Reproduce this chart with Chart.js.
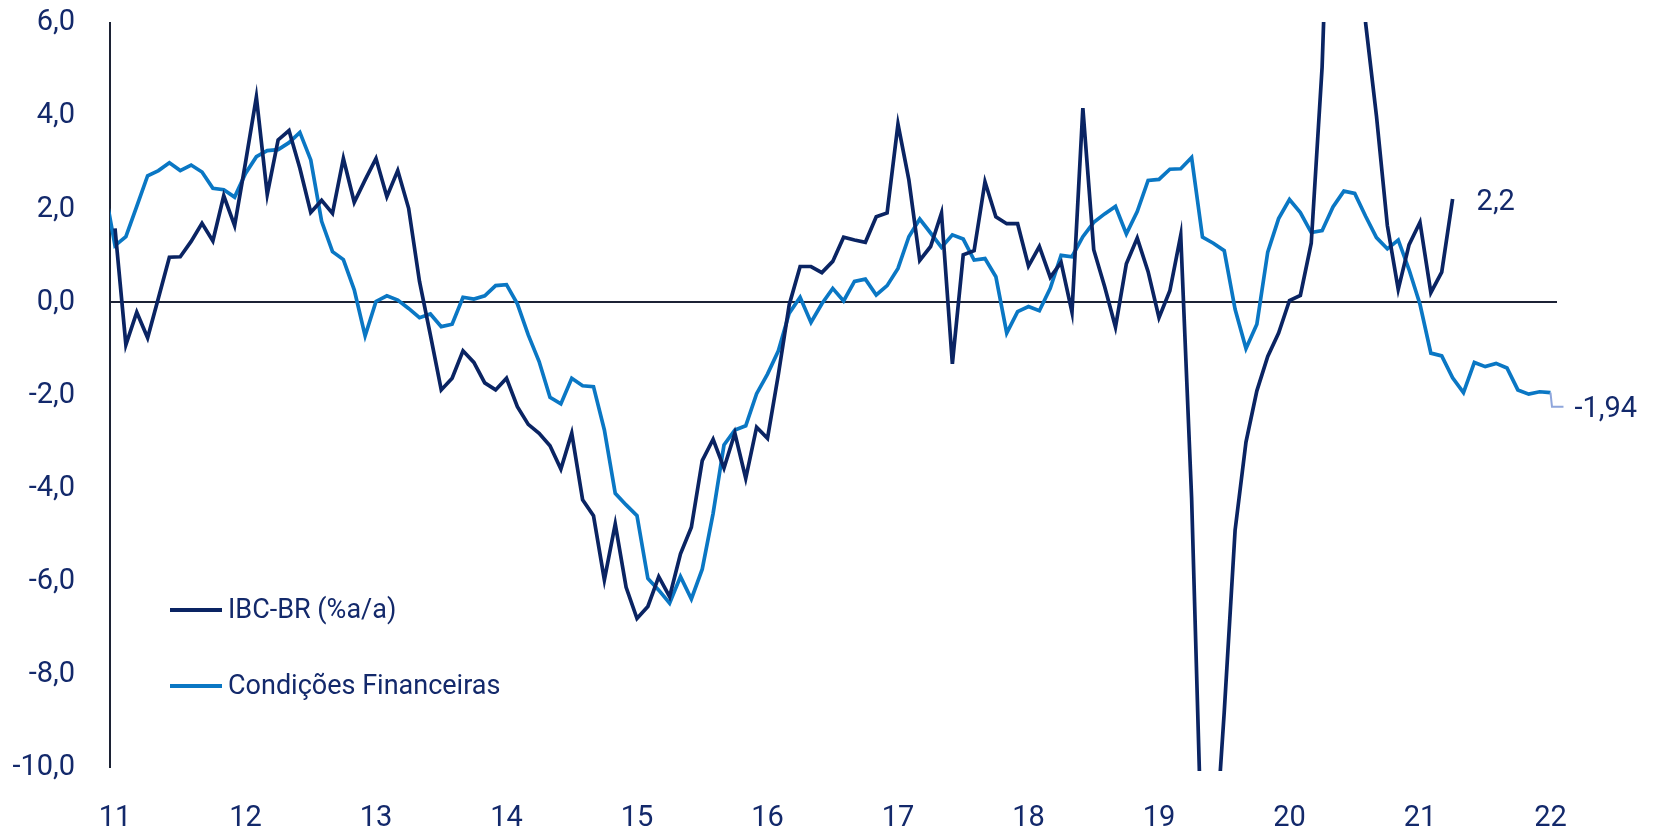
<!DOCTYPE html>
<html>
<head>
<meta charset="utf-8">
<script src="https://cdn.jsdelivr.net/npm/chart.js@4.4.1/dist/chart.umd.min.js"></script>
<style>
  body { margin: 0; background: #fff; }
  #wrap { width: 1657px; height: 833px; }
</style>
</head>
<body>
<div id="wrap"><canvas id="chart" width="1657" height="833"></canvas></div>
<script>
// months counted from Jan 2011 (0 = jan/11)
const yearTicks = [0, 12, 24, 36, 48, 60, 72, 84, 96, 108, 120, 132];
const yearLabels = ['11', '12', '13', '14', '15', '16', '17', '18', '19', '20', '21', '22'];
const seriesNames = ['IBC-BR (%a/a)', 'Condições Financeiras'];

// IBC-BR, jan/11 .. abr/21
const ibcStart = 0;
const ibcBr = [
    1.59, -0.91, -0.21, -0.76, 0.10, 0.97, 0.98, 1.31, 1.70, 1.32, 2.29, 1.65,
    3.00, 4.41, 2.32, 3.49, 3.69, 2.88, 1.93, 2.19, 1.91, 3.09, 2.15, 2.63,
    3.09, 2.27, 2.83, 2.02, 0.45, -0.70, -1.88, -1.63, -1.04, -1.29, -1.73, -1.88,
    -1.63, -2.24, -2.62, -2.81, -3.08, -3.58, -2.81, -4.24, -4.58, -5.96, -4.76, -6.12,
    -6.79, -6.53, -5.89, -6.32, -5.40, -4.83, -3.40, -2.94, -3.56, -2.81, -3.78, -2.68,
    -2.92, -1.55, -0.05, 0.77, 0.77, 0.64, 0.88, 1.40, 1.34, 1.29, 1.84, 1.92,
    3.83, 2.63, 0.90, 1.20, 1.92, -1.32, 1.02, 1.11, 2.59, 1.84, 1.69, 1.69,
    0.78, 1.20, 0.54, 0.86, -0.21, 4.17, 1.13, 0.34, -0.53, 0.83, 1.38, 0.66,
    -0.33, 0.25, 1.44, -4.20, -12.40, -12.30, -8.80, -4.89, -3.00, -1.90, -1.16, -0.66,
    0.04, 0.15, 1.27, 5.05, 12.00, 15.00, 13.00, 6.00, 4.00, 1.65, 0.28, 1.24,
    1.72, 0.21, 0.65, 2.22
];

// Condições Financeiras, dez/10 .. jan/22
const condStart = -1;
const condFin = [
    2.50,
    1.22, 1.41, 2.06, 2.72, 2.83, 3.00, 2.83, 2.95, 2.80, 2.45, 2.42, 2.26,
    2.77, 3.13, 3.26, 3.28, 3.43, 3.65, 3.06, 1.74, 1.09, 0.92, 0.27, -0.72,
    0.02, 0.14, 0.05, -0.13, -0.33, -0.25, -0.52, -0.47, 0.11, 0.07, 0.14, 0.36,
    0.38, -0.03, -0.70, -1.27, -2.04, -2.18, -1.63, -1.79, -1.81, -2.74, -4.10, -4.35,
    -4.58, -5.93, -6.18, -6.46, -5.89, -6.37, -5.73, -4.53, -3.06, -2.74, -2.65, -1.96,
    -1.54, -1.04, -0.23, 0.11, -0.43, -0.03, 0.30, 0.03, 0.45, 0.50, 0.16, 0.36,
    0.73, 1.41, 1.79, 1.49, 1.18, 1.45, 1.36, 0.91, 0.94, 0.55, -0.66, -0.20,
    -0.09, -0.18, 0.30, 1.01, 0.98, 1.41, 1.72, 1.90, 2.06, 1.47, 1.95, 2.62,
    2.64, 2.86, 2.87, 3.11, 1.40, 1.27, 1.11, -0.15, -0.99, -0.47, 1.08, 1.80,
    2.21, 1.93, 1.50, 1.54, 2.05, 2.39, 2.34, 1.85, 1.39, 1.15, 1.34, 0.70,
    -0.04, -1.09, -1.15, -1.62, -1.94, -1.29, -1.38, -1.31, -1.41, -1.88, -1.97, -1.92,
    -1.94
];

const DARK = '#0a2463';
const LIGHT = '#0a77c4';
const TEXT = '#13296b';
const AXIS = '#1c2235';
const FONT = 'Roboto, "Noto Sans", sans-serif';

function toPoints(values, start) {
    return values.map((v, k) => ({ x: start + k, y: v }));
}

const legendInside = {
    id: 'legendInside',
    afterDraw(chart) {
        const ctx = chart.ctx;
        const items = [
            { label: seriesNames[0], color: DARK, y: 610 },
            { label: seriesNames[1], color: LIGHT, y: 686 }
        ];
        ctx.save();
        ctx.font = '27px ' + FONT;
        ctx.textBaseline = 'middle';
        ctx.fillStyle = TEXT;
        items.forEach(it => {
            ctx.beginPath();
            ctx.strokeStyle = it.color;
            ctx.lineWidth = 4;
            ctx.moveTo(170, it.y);
            ctx.lineTo(222, it.y);
            ctx.stroke();
            ctx.fillText(it.label, 228, it.y + 1);
        });
        ctx.restore();
    }
};

const endLabels = {
    id: 'endLabels',
    afterDatasetsDraw(chart) {
        const ctx = chart.ctx;
        const d0 = chart.getDatasetMeta(0).data;
        const d1 = chart.getDatasetMeta(1).data;
        const p0 = d0[d0.length - 1];
        const p1 = d1[d1.length - 1];
        ctx.save();
        ctx.font = '29px ' + FONT;
        ctx.textBaseline = 'middle';
        ctx.fillStyle = TEXT;
        ctx.fillText(ibcBr[ibcBr.length - 1].toFixed(1).replace('.', ','), p0.x + 24, p0.y + 4);

        ctx.beginPath();
        ctx.strokeStyle = '#8fa6dc';
        ctx.lineWidth = 2;
        ctx.moveTo(p1.x, p1.y);
        ctx.lineTo(p1.x + 1.5, p1.y + 14);
        ctx.lineTo(p1.x + 13, p1.y + 14);
        ctx.stroke();
        ctx.fillText(condFin[condFin.length - 1].toFixed(2).replace('.', ','), p1.x + 24, p1.y + 17);
        ctx.restore();
    }
};

function renderChart() {
    new Chart(document.getElementById('chart'), {
        type: 'line',
        data: {
            datasets: [{
                label: seriesNames[0],
                data: toPoints(ibcBr, ibcStart),
                borderColor: DARK,
                borderWidth: 3.7,
                pointRadius: 0,
                tension: 0,
                clip: { left: 0, top: 1, right: 2, bottom: 3 }
            }, {
                label: seriesNames[1],
                data: toPoints(condFin, condStart),
                borderColor: LIGHT,
                borderWidth: 3.7,
                pointRadius: 0,
                tension: 0,
                clip: { left: 0, top: 1, right: 2, bottom: 3 }
            }]
        },
        options: {
            responsive: false,
            animation: false,
            layout: { padding: { top: 23, right: 100, left: 0, bottom: 0 } },
            plugins: {
                legend: { display: false },
                tooltip: { enabled: false }
            },
            scales: {
                x: {
                    type: 'linear',
                    min: -0.46,
                    max: 132.6,
                    afterBuildTicks: scale => { scale.ticks = yearTicks.map(v => ({ value: v })); },
                    afterFit: scale => { scale.height = 65; },
                    grid: { display: false },
                    border: { display: false },
                    ticks: {
                        autoSkip: false,
                        maxRotation: 0,
                        padding: 25,
                        color: TEXT,
                        font: { family: FONT, size: 29 },
                        callback: (v, i) => yearLabels[i]
                    }
                },
                y: {
                    min: -10,
                    max: 6,
                    afterFit: scale => {
                        scale.width = 110;
                        scale.paddingTop = 0;
                        scale.paddingBottom = 0;
                    },
                    grid: {
                        drawTicks: false,
                        color: c => c.tick.value === 0 ? AXIS : 'rgba(0,0,0,0)',
                        lineWidth: c => c.tick.value === 0 ? 2 : 0
                    },
                    border: { display: true, color: AXIS, width: 2 },
                    ticks: {
                        stepSize: 2,
                        padding: 35,
                        color: TEXT,
                        font: { family: FONT, size: 29 },
                        callback: v => v.toFixed(1).replace('.', ',')
                    }
                }
            }
        },
        plugins: [legendInside, endLabels]
    });
}

document.addEventListener('DOMContentLoaded', () => {
    renderChart();
});
</script>
</body>
</html>
